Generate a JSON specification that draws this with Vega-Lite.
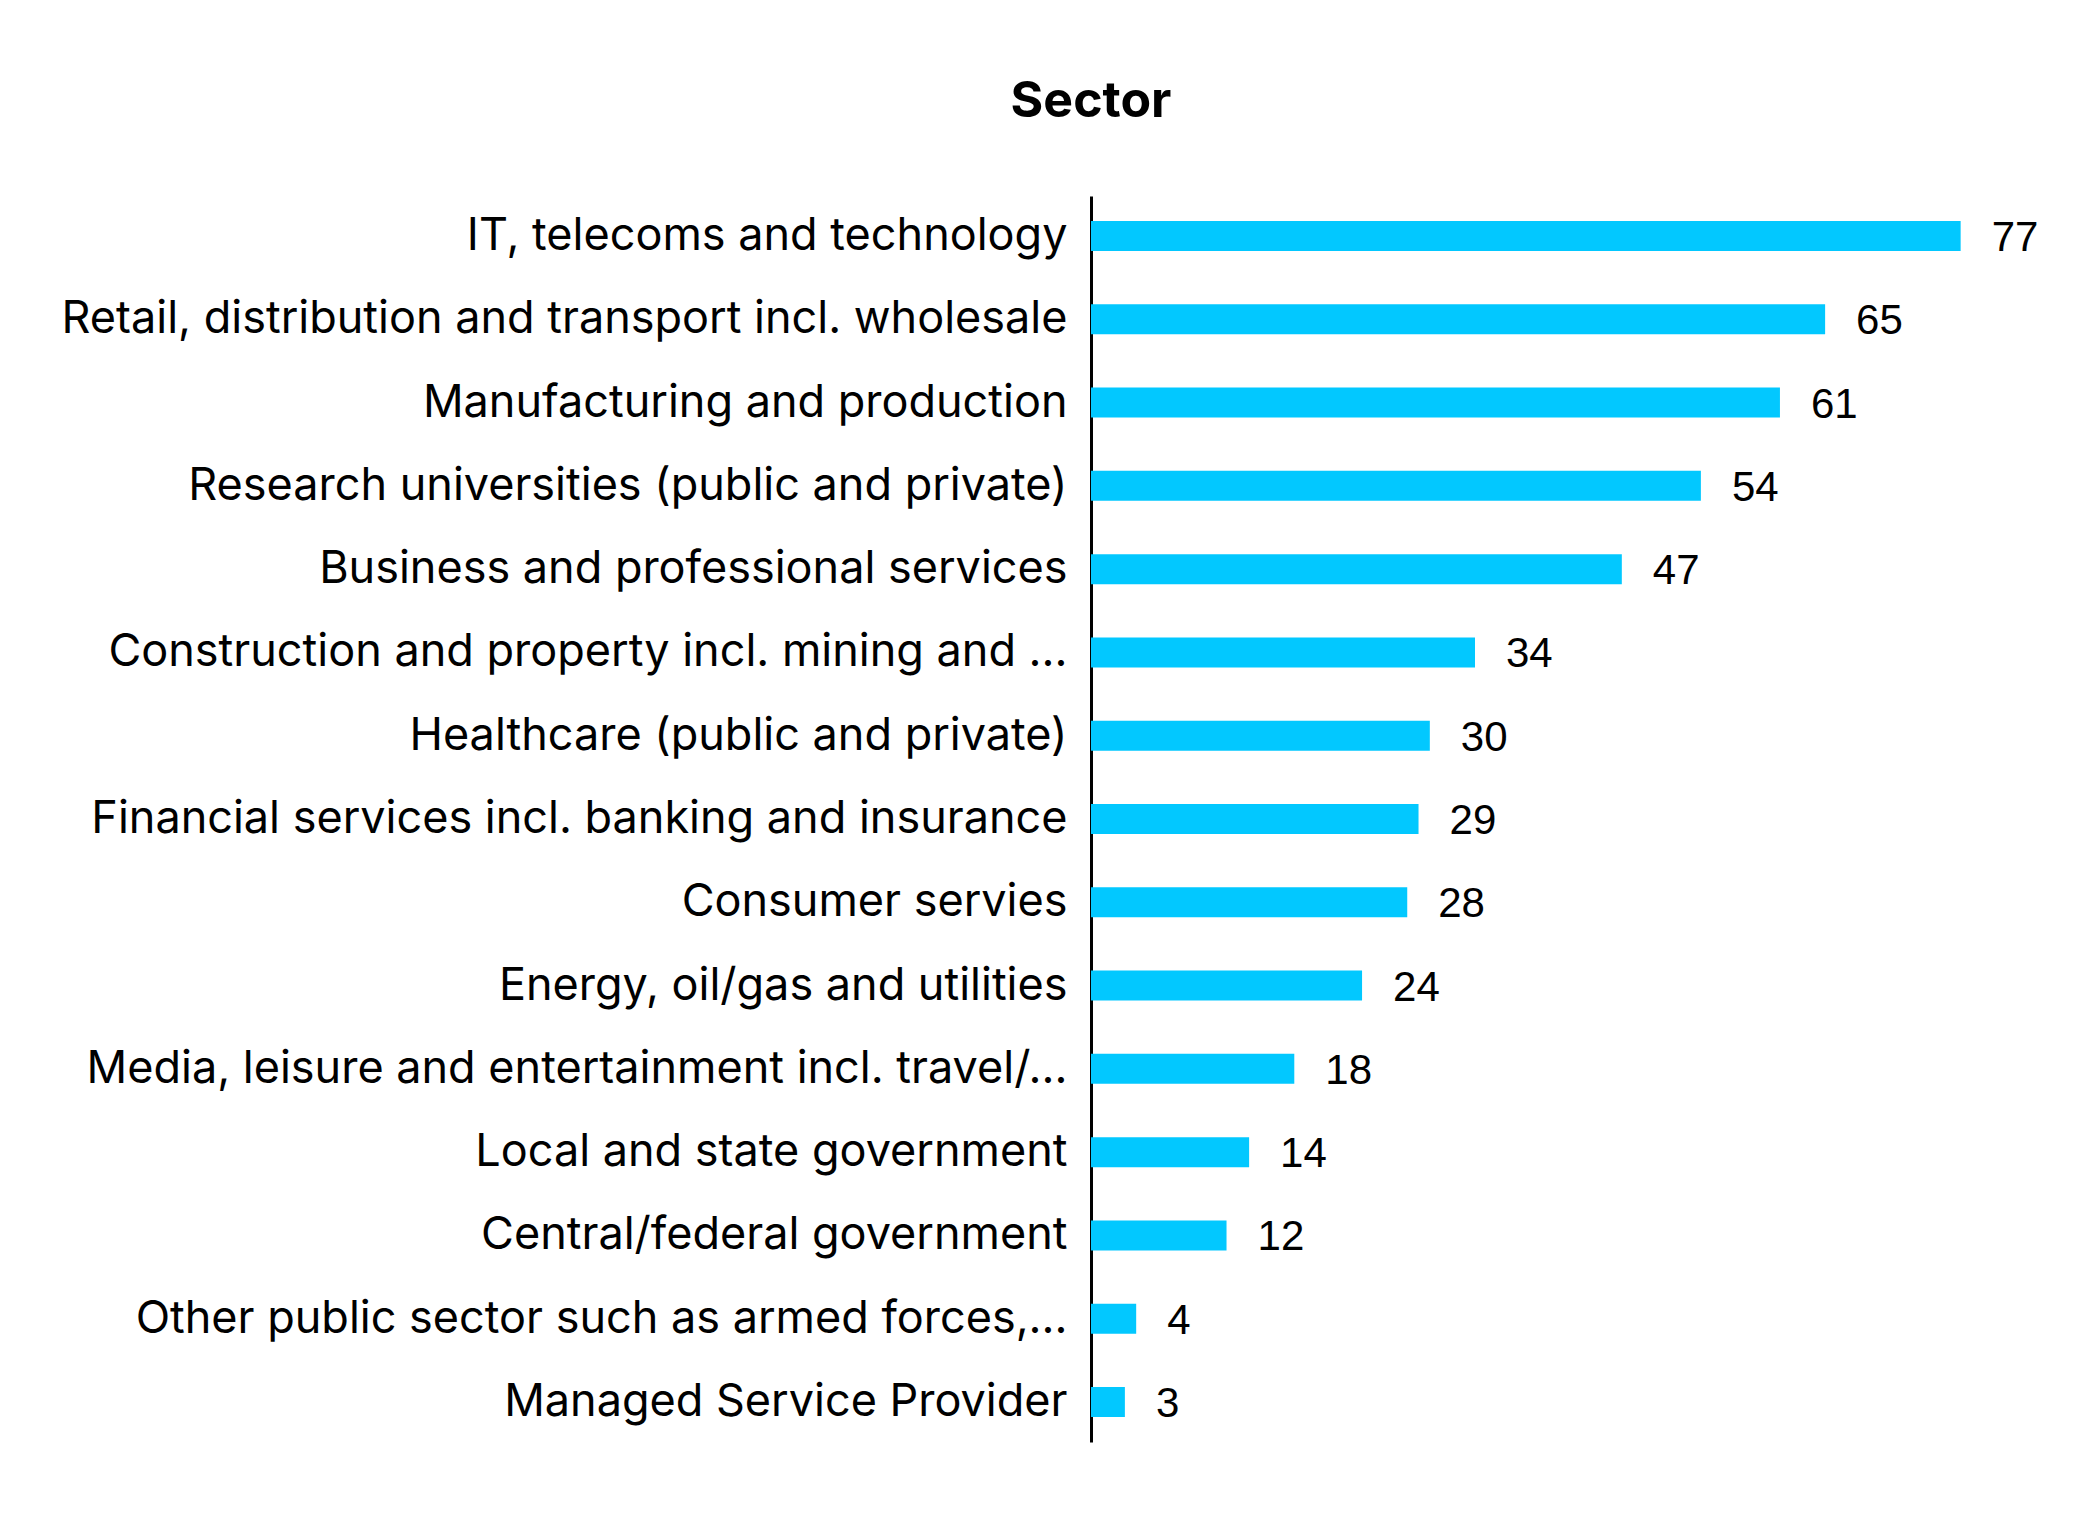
{
  "$schema": "https://vega.github.io/schema/vega-lite/v6.json",
  "autosize": {"type": "none"},
  "padding": {"left": 1091, "top": 196, "right": 49, "bottom": 73},
  "width": 960,
  "height": 1246,
  "background": "white",
  "title": {
    "text": "Sector",
    "anchor": "start",
    "frame": "group",
    "align": "center",
    "baseline": "alphabetic",
    "offset": 29,
    "font": "Inter",
    "fontSize": 50,
    "fontWeight": "bold",
    "color": "black"
  },
  "data": {
    "values": [
      {"sector": "IT, telecoms and technology", "count": 77},
      {"sector": "Retail, distribution and transport incl. wholesale", "count": 65},
      {"sector": "Manufacturing and production", "count": 61},
      {"sector": "Research universities (public and private)", "count": 54},
      {"sector": "Business and professional services", "count": 47},
      {"sector": "Construction and property incl. mining and ...", "count": 34},
      {"sector": "Healthcare (public and private)", "count": 30},
      {"sector": "Financial services incl. banking and insurance", "count": 29},
      {"sector": "Consumer servies", "count": 28},
      {"sector": "Energy, oil/gas and utilities", "count": 24},
      {"sector": "Media, leisure and entertainment incl. travel/...", "count": 18},
      {"sector": "Local and state government", "count": 14},
      {"sector": "Central/federal government", "count": 12},
      {"sector": "Other public sector such as armed forces,...", "count": 4},
      {"sector": "Managed Service Provider", "count": 3}
    ]
  },
  "encoding": {
    "y": {
      "field": "sector",
      "type": "nominal",
      "sort": "-x",
      "scale": {"paddingInner": 0.64, "paddingOuter": 0.3},
      "axis": {
        "title": null,
        "ticks": false,
        "labelFont": "Inter",
        "labelFontSize": 45,
        "labelColor": "black",
        "labelPadding": 24,
        "labelLimit": 0,
        "domainColor": "black",
        "domainWidth": 3
      }
    },
    "x": {
      "field": "count",
      "type": "quantitative",
      "scale": {"domain": [0, 85]},
      "axis": null
    }
  },
  "layer": [
    {"mark": {"type": "bar", "color": "#02C8FF"}},
    {
      "mark": {
        "type": "text",
        "align": "left",
        "baseline": "middle",
        "dx": 31,
        "dy": 2,
        "font": "Liberation Sans",
        "fontSize": 42,
        "color": "black"
      },
      "encoding": {"text": {"field": "count", "type": "quantitative"}}
    }
  ],
  "config": {"view": {"stroke": null}}
}
